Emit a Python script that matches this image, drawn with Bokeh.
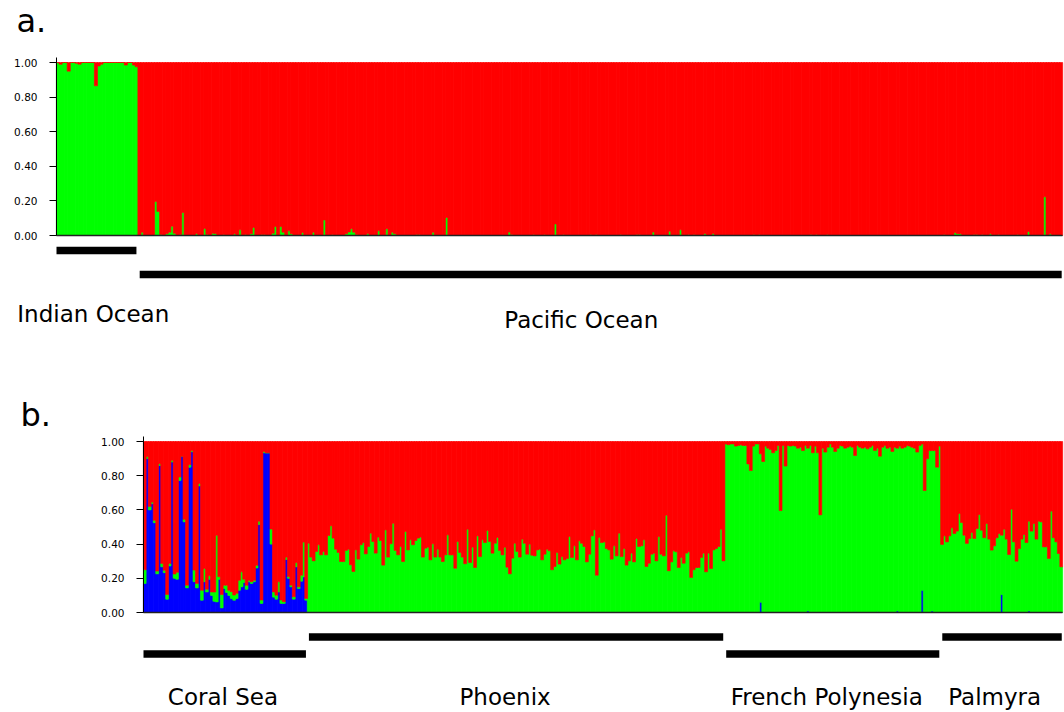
import numpy as np
from bokeh.plotting import figure
from bokeh.layouts import column
from bokeh.models import (ColumnDataSource, Label, FixedTicker,
                          NumeralTickFormatter, Range1d)
from bokeh.embed import file_html
from bokeh.resources import INLINE

GREEN = "#00ff00"
RED = "#ff0000"
BLUE = "#0000ff"

# ---------------- panel a data (green membership; red = remainder) -------------
panel_a_groups = ["Indian Ocean", "Pacific Ocean"]
indian_green = [1.0, 0.99, 1.0, 1.0, 0.95, 1.0, 1.0, 0.995, 0.99, 1.0,
                1.0, 1.0, 1.0, 1.0, 0.865, 0.98, 0.99, 1.0, 1.0, 1.0,
                1.0, 1.0, 1.0, 1.0, 1.0, 0.985, 1.0, 1.0, 0.985, 0.975]
pacific_green = [
    0, .019, 0, 0, 0, 0, .197, .139, .006, 0, .01, .019, .054, .013, 0, .006, .133, 0, 0, 0,
    0, .012, 0, 0, .04, .006, 0, .013, .012, 0, 0, .006, 0, 0, 0, .01, 0, .033, 0, .006,
    0, .01, .046, 0, 0, .006, .006, 0, 0, .013, .052, 0, .052, .019, 0, .027, .01, 0, 0, 0,
    .017, 0, 0, 0, .019, 0, 0, 0, .09, 0, 0, .006, 0, 0, 0, 0, .01, .02, .039, .019,
    .006, 0, 0, 0, .012, 0, 0, 0, .027, 0, 0, .039, 0, .019, .01, 0, 0, 0, 0, 0,
    0, 0, .006, .006, 0, 0, 0, 0, .019, 0, 0, 0, 0, .104, 0, 0, 0, 0, 0, 0,
    0, 0, 0, 0, 0, 0, 0, 0, 0, 0, 0, 0, 0, 0, 0, 0, .02, .006, 0, 0,
    0, 0, 0, 0, 0, .006, 0, 0, 0, .006, 0, 0, 0, .067, 0, 0, .006, 0, 0, 0,
    0, 0, 0, 0, 0, 0, .006, 0, .006, 0, 0, 0, 0, 0, 0, 0, 0, .006, 0, 0,
    0, 0, 0, .006, .006, 0, 0, 0, 0, .02, 0, 0, 0, 0, 0, .025, 0, 0, 0, .033,
    0, 0, .006, 0, .006, 0, 0, 0, .012, 0, 0, .012, 0, 0, 0, 0, 0, 0, 0, 0,
    0, 0, 0, 0, 0, 0, .006, 0, .006, 0, 0, 0, 0, 0, 0, 0, 0, 0, 0, 0,
    0, 0, 0, 0, 0, 0, 0, .006, 0, .006, 0, 0, 0, .006, 0, 0, 0, 0, 0, 0,
    0, 0, 0, 0, 0, 0, 0, 0, 0, 0, 0, 0, 0, 0, 0, 0, 0, 0, 0, 0,
    0, 0, 0, 0, 0, 0, 0, 0, 0, 0, 0, 0, 0, 0, 0, 0, .006, 0, 0, 0,
    .017, .01, .01, 0, 0, 0, 0, .006, .006, 0, .006, 0, 0, .01, 0, 0, .006, 0, 0, 0,
    0, 0, 0, .006, 0, 0, 0, .023, 0, 0, 0, 0, 0, .224, 0, .01, 0, 0, 0, 0]

# ---------------- panel b data (blue, green membership; red = remainder) -------
panel_b_groups = ["Coral Sea", "Phoenix", "French Polynesia", "Palmyra"]
coral_blue = [
    0.17, 0.90, 0.60, 0.636, 0.525, 0.226, 0.86, 0.267, 0.233, 0.078,
    0.272, 0.88, 0.20, 0.195, 0.772, 0.914, 0.53, 0.144, 0.85, 0.94,
    0.18, 0.144, 0.74, 0.072, 0.18, 0.12, 0.195, 0.10, 0.066, 0.062,
    0.195, 0.027, 0.14, 0.117, 0.10, 0.082, 0.072, 0.082, 0.13, 0.15,
    0.175, 0.136, 0.18, 0.17, 0.18, 0.26, 0.514, 0.053, 0.934, 0.934,
    0.934, 0.40, 0.09, 0.078, 0.12, 0.053, 0.053, 0.31, 0.20, 0.15,
    0.078, 0.267, 0.14, 0.183, 0.208, 0.072]
coral_green = [
    .08, .012, .02, .01, .014, .016, .01, .02, .014, .027,
    .014, .01, .025, .04, .02, 0, .015, .016, .014, .008,
    .068, .025, .014, .058, .078, .016, .02, .02, .054, .39,
    .014, .078, .02, .043, .03, .04, .03, .03, .058, .088,
    .02, .023, .008, .01, .008, .016, .02, .02, .008, 0,
    0, .088, .03, .023, .06, .02, .01, .014, .01, .01,
    .014, .025, .01, .035, .204, .01]
phoenix_green = [
    .405, .324, .302, .357, .396, .337, .357, .337, .450, .507,
    .435, .370, .351, .298, .298, .363, .370, .279, .240, .366,
    .312, .396, .409, .343, .386, .464, .415, .347, .441, .421,
    .277, .483, .324, .402, .522, .363, .337, .386, .298, .474,
    .366, .425, .396, .421, .435, .441, .324, .376, .382, .308,
    .402, .324, .370, .324, .298, .337, .454, .337, .337, .259,
    .415, .351, .324, .285, .487, .292, .382, .263, .448, .327,
    .425, .409, .480, .415, .347, .405, .439, .363, .337, .382,
    .265, .226, .318, .405, .357, .324,
    .429, .405, .341, .400, .335, .331, .366, .370, .308, .341,
    .370, .361, .250, .269, .351, .283, .327, .308, .316, .444,
    .322, .390, .308, .419, .405, .386, .296, .341, .448, .483,
    .218, .439, .409, .413, .374, .366, .312, .390, .331, .464,
    .327, .374, .277, .302, .347, .296, .433, .386, .390, .425,
    .269, .288, .341, .347, .302, .444, .341, .331, .569, .244,
    .296, .361, .355, .263, .322, .288, .347, .355, .205, .250,
    .263, .263, .322, .347, .238, .347, .257, .366, .374, .386,
    .487, .302]
phoenix_blue = [0.0] * len(phoenix_green)
fp_blue = [
    0, 0, 0, 0, 0, 0, 0, 0, 0, 0,
    0, 0, 0, 0, .06, 0, 0, 0, 0, 0,
    0, 0, 0, 0, 0, 0, 0, 0, 0, 0,
    0, 0, 0, .01, 0, 0, 0, 0, 0, 0,
    0, 0, 0, 0, 0, 0, 0, 0, 0, 0,
    0, 0, .005, 0, 0, 0, 0, 0, 0, 0,
    0, .005, 0, 0, 0, 0, 0, 0, 0, .01,
    0, 0, 0, 0, 0, 0, 0, 0, 0, .13,
    0, 0, 0, .01, 0, 0, 0]
fp_green = [
    .986, .981, .986, .986, .973, .977, .981, .977, .977, .869,
    .830, .973, .986, .986, .868, .883, .973, .961, .953, .934,
    .947, .977, .596, .977, .856, .977, .973, .977, .973, .961,
    .967, .947, .977, .951, .977, .934, .973, .934, .571, .961,
    .938, .967, .986, .967, .942, .961, .977, .973, .961, .967,
    .973, .967, .913, .977, .967, .961, .967, .957, .967, .977,
    .947, .956, .914, .967, .977, .961, .967, .942, .967, .951,
    .973, .961, .967, .977, .973, .967, .961, .938, .977, .856,
    .713, .899, .947, .937, .947, .850, .973]
palmyra_blue = [
    0, 0, 0, 0, 0, 0, 0, 0, 0, 0,
    0, 0, 0, 0, 0, 0, 0, 0, 0, 0,
    0, 0, 0, 0, .105, 0, 0, 0, 0, 0,
    0, 0, 0, 0, 0, .01, 0, 0, 0, 0,
    0, 0, 0, 0, 0, 0, 0, 0, 0]
palmyra_green = [
    .398, .448, .413, .448, .495, .462, .476, .579, .526, .452,
    .404, .433, .468, .433, .491, .573, .481, .437, .520, .429,
    .365, .390, .437, .462, .347, .487, .429, .339, .604, .413,
    .300, .374, .429, .456, .409, .524, .476, .520, .429, .534,
    .530, .384, .384, .316, .593, .437, .413, .345, .267]

y_ticks = [0.0, 0.2, 0.4, 0.6, 0.8, 1.0]

FONT = "DejaVu Sans"
FIG_W = 1064
PLOT_RIGHT = 1062   # pixel where the last bar ends


def base_fig(height, n, left_px, zero_px, unit_px, top_px):
    ppu = (PLOT_RIGHT - left_px) / n
    xr = Range1d(-left_px / ppu, n + (FIG_W - PLOT_RIGHT) / ppu)
    yr = Range1d((zero_px - (top_px + height)) / unit_px, (zero_px - top_px) / unit_px)
    p = figure(width=FIG_W, height=height, output_backend="svg",
               toolbar_location=None, x_axis_location=None,
               x_range=xr, y_range=yr, min_border=0)
    p.outline_line_color = None
    p.xgrid.visible = False
    p.ygrid.visible = False
    p.background_fill_color = "white"
    ax = p.yaxis[0]
    ax.fixed_location = 0
    ax.ticker = FixedTicker(ticks=y_ticks)
    ax.formatter = NumeralTickFormatter(format="0.00")
    ax.bounds = (0, 1.03)
    ax.major_tick_out = 7
    ax.major_tick_in = 0
    ax.minor_tick_line_color = None
    ax.axis_line_color = "black"
    ax.major_tick_line_color = "black"
    ax.major_label_text_font = FONT
    ax.major_label_text_font_size = "10.5px"
    ax.major_label_text_color = "black"
    ax.major_label_standoff = 12
    return p, ppu


def add_groups(p, counts, names, bar_ys, label_ys, offsets, font_size):
    start = 0
    x0s, x1s, ys = [], [], []
    for i, (c, nm) in enumerate(zip(counts, names)):
        x0s.append(start + (0.6 if i > 0 else 0.0))
        x1s.append(start + c - (0.6 if i < len(counts) - 1 else 0.3))
        ys.append(bar_ys[i])
        p.add_layout(Label(x=start + c / 2.0, y=label_ys[i], text=nm,
                           x_offset=offsets[i], text_align="center",
                           text_baseline="alphabetic", text_font=FONT,
                           text_font_size=font_size, text_color="black"))
        start += c
    p.segment(x0=x0s, y0=ys, x1=x1s, y1=ys, line_color="black",
              line_width=7.5, line_cap="butt")


# ---------------- panel a ----------------
a_green = indian_green + pacific_green
na = len(a_green)
a_red = [max(0.0, 1.0 - g) for g in a_green]
src_a = ColumnDataSource(dict(x=np.arange(na) + 0.5, green=a_green, red=a_red))

H_A = 372
zero_a, unit_a, top_a, left_a = 235.0, 173.0, 0.0, 56.0   # pixel layout of panel a
ya = lambda sy: (zero_a - sy) / unit_a
pa, ppu_a = base_fig(H_A, na, left_a, zero_a, unit_a, top_a)
pa.vbar_stack(["green", "red"], x="x", width=1.15, source=src_a,
              fill_color=[GREEN, RED], line_color=[GREEN, RED], line_width=0.6)
pa.segment(x0=[0], y0=[0], x1=[na], y1=[0], line_color="#222222", line_width=1.5)
add_groups(pa, [len(indian_green), len(pacific_green)], panel_a_groups,
           [ya(250), ya(274)], [ya(313), ya(319)], [-4, -19], "23px")
pa.add_layout(Label(x=(16 - left_a) / ppu_a, y=ya(20), text="a.",
                    text_align="left", text_baseline="alphabetic",
                    text_font=FONT, text_font_size="32px", text_color="black"))

# ---------------- panel b ----------------
b_blue = coral_blue + phoenix_blue + fp_blue + palmyra_blue
b_green = coral_green + phoenix_green + fp_green + palmyra_green
nb = len(b_blue)
b_red = [max(0.0, 1.0 - b - g) for b, g in zip(b_blue, b_green)]
src_b = ColumnDataSource(dict(x=np.arange(nb) + 0.5, blue=b_blue,
                              green=b_green, red=b_red))
H_B = 340
zero_b, unit_b, top_b, left_b = 612.0, 171.0, 372.0, 143.0  # pixel layout of panel b
yb = lambda sy: (zero_b - sy) / unit_b
pb, ppu_b = base_fig(H_B, nb, left_b, zero_b, unit_b, top_b)
pb.vbar_stack(["blue", "green", "red"], x="x", width=1.15, source=src_b,
              fill_color=[BLUE, GREEN, RED], line_color=[BLUE, GREEN, RED],
              line_width=0.6)
pb.segment(x0=[0], y0=[0], x1=[nb], y1=[0], line_color="#222222", line_width=1.5)
counts_b = [len(coral_blue), len(phoenix_green), len(fp_green), len(palmyra_green)]
lab_b = yb(696)
add_groups(pb, counts_b, panel_b_groups,
           [yb(653.5), yb(636.5), yb(653.5), yb(636.5)], [lab_b] * 4,
           [-2.5, -11, -6, -7], "23px")
pb.add_layout(Label(x=(20 - left_b) / ppu_b, y=yb(414), text="b.",
                    text_align="left", text_baseline="alphabetic",
                    text_font=FONT, text_font_size="32px", text_color="black"))

layout = column(pa, pb, spacing=0)
open("out.html", "w").write(file_html(layout, INLINE))
